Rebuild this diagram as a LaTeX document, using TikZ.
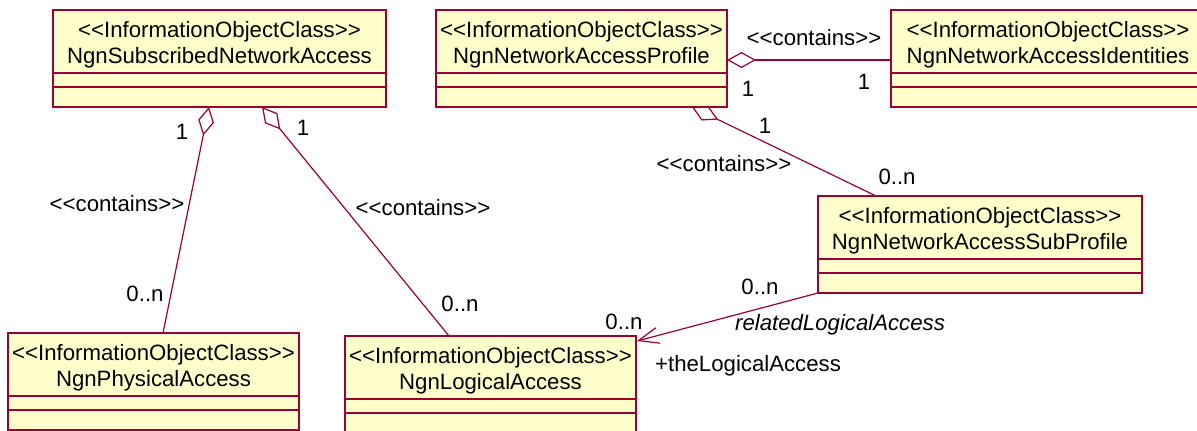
\documentclass[tikz,border=0pt]{standalone}
\usepackage{fontspec}
\setmainfont{Liberation Sans}
\usetikzlibrary{shapes.multipart,arrows.meta,calc}

\definecolor{umlred}{RGB}{153,0,51}
\definecolor{umlyellow}{RGB}{255,255,204}

\newcommand{\stereo}[1]{<\kern0pt<#1>\kern0pt>}
\newcommand{\ioc}[1]{\rule{0pt}{13pt}\stereo{InformationObjectClass}\\#1\rule[-4.5pt]{0pt}{4.5pt}\nodepart{two}\rule{0pt}{6pt}\nodepart{three}\rule{0pt}{9pt}}

\tikzset{
  ioc/.style={rectangle split, rectangle split parts=3, draw=umlred, fill=umlyellow, line width=1pt,
    inner xsep=0pt, inner ysep=0pt, outer sep=0pt, anchor=north west, text width=#1, align=center,
    font=\fontsize{11.1pt}{13pt}\selectfont},
  agg/.style={draw=umlred, line width=0.6pt, {Diamond[open,length=14.5pt,width=8pt]}-},
  assoc/.style={draw=umlred, line width=0.6pt, -{Straight Barb[length=10pt,width=8pt]}},
  lbl/.style={inner sep=0pt, font=\fontsize{11.1pt}{13pt}\selectfont},
}

\begin{document}
\begin{tikzpicture}[x=0.5pt, y=-0.5pt]
        \path[use as bounding box, fill=white] (0,0) rectangle (1197,430);

        % Classes
        \node[ioc=166.5pt] (subnet) at (53,10) {\ioc{NgnSubscribedNetworkAccess}};
        \node[ioc=145.5pt] (profile) at (436,10) {\ioc{NgnNetworkAccessProfile}};
        \node[ioc=157pt] (ident) at (891,10) {\ioc{NgnNetworkAccessIdentities}};
        \node[ioc=162pt] (subprof) at (818,196) {\ioc{NgnNetworkAccessSubProfile}};
        \node[ioc=145.5pt] (phys) at (8,333) {\ioc{NgnPhysicalAccess}};
        \node[ioc=145.5pt] (logical) at (345,336) {\ioc{NgnLogicalAccess}};

        % Aggregations
        \draw[agg] ($(subnet.south west)+(156,0)$) -- ($(phys.north west)+(155,0)$);
        \draw[agg] ($(subnet.south west)+(209,0)$) -- ($(logical.north west)+(104,0)$);
        \draw[agg] ($(profile.north east)+(0,50)$) -- ($(ident.north west)+(0,50)$);
        \draw[agg] ($(profile.south west)+(256,0)$) -- ($(subprof.north west)+(58,0)$);

        % Association
        \draw[assoc] (subprof.south west) -- ($(logical.north east)+(1,5)$);

        % Labels
        \node[lbl] (m1) at (182,132) {1};
        \node[lbl] (m2) at (303,128) {1};
        \node[lbl] (c1) at (117,204) {\stereo{contains}};
        \node[lbl] (c2) at (423,208) {\stereo{contains}};
        \node[lbl] (n1) at (145,294) {0..n};
        \node[lbl] (n2) at (460,304) {0..n};

        \node[lbl] (c3) at (814,38) {\stereo{contains}};
        \node[lbl] (m3) at (748,89) {1};
        \node[lbl] (m4) at (864,82) {1};
        \node[lbl] (m5) at (765,126) {1};
        \node[lbl] (c4) at (724,164) {\stereo{contains}};
        \node[lbl] (n3) at (897,177) {0..n};

        \node[lbl] (n4) at (760,287) {0..n};
        \node[lbl] (role1) at (840,325) {\itshape relatedLogicalAccess};
        \node[lbl] (n5) at (624,322) {0..n};
        \node[lbl] (role2) at (748,366) {+theLogicalAccess};
    \end{tikzpicture}
\end{document}
